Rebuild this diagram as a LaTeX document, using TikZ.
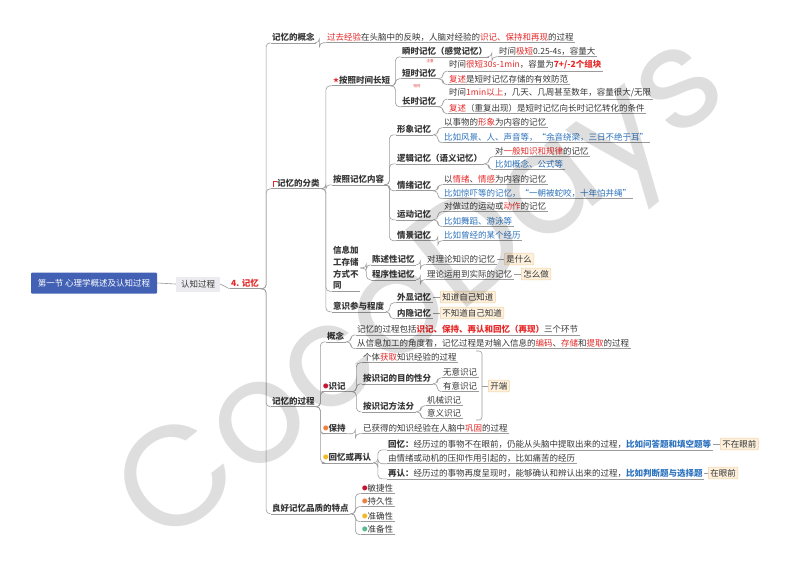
\documentclass[tikz,border=0pt]{standalone}
\usepackage{fontspec}
\setmainfont{Noto Sans CJK SC}
\newfontfamily\wmfont{Poppins}
\usetikzlibrary{calc}
\definecolor{tx}{RGB}{55,55,55}
\definecolor{rd}{RGB}{230,40,40}
\definecolor{bl}{RGB}{45,115,190}
\definecolor{ln}{RGB}{155,155,155}
\definecolor{rootblue}{RGB}{66,97,181}
\definecolor{rzbg}{RGB}{236,236,240}
\definecolor{boxbg}{RGB}{253,240,220}
\definecolor{boxbd}{RGB}{243,208,160}
\definecolor{dr}{RGB}{200,20,50}
\definecolor{dorg}{RGB}{235,130,60}
\definecolor{dy}{RGB}{242,185,40}
\definecolor{dg}{RGB}{90,185,140}
\newcommand{\hr}[1]{\textcolor{rd}{#1}}
\newcommand{\hrb}[1]{\textcolor{rd}{\bfseries #1}}
\newcommand{\hbb}[1]{\textcolor{bl}{\bfseries #1}}
\newcommand{\mdot}[1]{\textcolor{#1}{\raisebox{1pt}{\fontsize{5.5}{5}\selectfont ●}}}
\newcommand{\mstar}{\textcolor{rd}{\raisebox{0.8pt}{\fontsize{6}{6}\selectfont ★}}}
\newcommand{\lk}[3]{\draw[cn] (#1.south east) -- ++(#3,0) |- (#2.south west);}
\tikzset{
  every node/.style={font=\fontsize{8.5}{10}\selectfont, text=tx, inner xsep=1.5pt, inner ysep=1.5pt},
  lnc/.style={draw=ln, line width=0.6pt},
  cn/.style={lnc, rounded corners=4pt},
  t/.style={anchor=west, append after command={(\tikzlastnode.south west) edge[lnc] (\tikzlastnode.south east)}},
  b/.style={t, font=\fontsize{8.5}{10}\selectfont\bfseries},
  bt/.style={t, text=bl},
  tag/.style={anchor=west, fill=boxbg, draw=boxbd, line width=0.5pt, inner xsep=2pt, inner ysep=2pt, rounded corners=1pt},
}
\begin{document}
\begin{tikzpicture}[x=1pt,y=-1pt]
\fill[white] (0,0) rectangle (800,566);
\useasboundingbox (0,0) rectangle (800,566);

% root
\node[fill=rootblue, text=white, minimum width=126pt, minimum height=21pt, inner sep=0, rounded corners=1pt] (root) at (94,283) {第一节 心理学概述及认知过程};
\node[fill=rzbg, minimum width=44pt, minimum height=15pt, inner sep=0] (rz) at (198,284) {认知过程};
\node[t, text=rd, font=\fontsize{8.5}{10}\selectfont\bfseries] (mem) at (229.5,283) {4. 记忆};
\draw[lnc] (root.east) -- (rz.west);
\draw[lnc] (rz.east) -- (mem.south west);

% 记忆的概念
\node[b] (c1) at (270.5,37) {记忆的概念};
\node[t] (c1l) at (325.5,37) {\hr{过去经验}在头脑中的反映，人脑对经验的\hr{识记、保持和再现}的过程};
\lk{mem}{c1}{5.5}
\lk{c1}{c1l}{3}

% 记忆的分类
\node[b] (cls) at (270.5,183) {\hspace*{5pt}记忆的分类};
\draw[rd, line width=0.8pt] (273.5,186.5) -- (273.5,181) -- (276.5,181);
\lk{mem}{cls}{5.5}

\node[b] (t1) at (331.5,80) {\mstar 按照时间长短};
\lk{cls}{t1}{4.5}
\node[b] (s1) at (400.5,51) {瞬时记忆（感觉记忆）};
\node[t] (s1l) at (497.5,51) {时间\hr{极短}0.25-4s，容量大};
\node[b] (s2) at (400.5,73) {短时记忆};
\node[t] (s2a) at (447.5,65) {时间\hr{很短30s-1min}，容量为\hrb{7+/-2个组块}};
\node[t] (s2b) at (447.5,79) {\hr{复述}是短时记忆存储的有效防范};
\node[b] (s3) at (400.5,101) {长时记忆};
\node[t] (s3a) at (447.5,93) {时间\hr{1min以上}，几天、几周甚至数年，容量很大/无限};
\node[t] (s3b) at (447.5,108) {\hr{复述}（重复出现）是短时记忆向长时记忆转化的条件};
\node[font=\fontsize{3.5}{4}\selectfont, text=rd, inner sep=0] (n1) at (430,61) {注意};
\node[font=\fontsize{3.5}{4}\selectfont, text=rd, inner sep=0] (n2) at (417,86) {短时};
\lk{t1}{s1}{3.5}
\lk{t1}{s2}{3.5}
\lk{t1}{s3}{3.5}
\lk{s1}{s1l}{3}
\lk{s2}{s2a}{5}
\lk{s2}{s2b}{5}
\lk{s3}{s3a}{5}
\lk{s3}{s3b}{5}

\node[b] (t2) at (331.5,179) {按照记忆内容};
\lk{cls}{t2}{4.5}
\node[b] (x1) at (395.5,129) {形象记忆};
\node[t] (x1a) at (442.5,122) {以事物的\hr{形象}为内容的记忆};
\node[bt] (x1b) at (442.5,137) {比如风景、人、声音等，“余音绕梁，三日不绝于耳”};
\node[b] (x2) at (395.5,158) {逻辑记忆（语义记忆）};
\node[t] (x2a) at (493.5,151) {对\hr{一般知识和规律}的记忆};
\node[bt] (x2b) at (493.5,164) {比如概念、公式等};
\node[b] (x3) at (395.5,185) {情绪记忆};
\node[t] (x3a) at (442.5,179) {以\hr{情绪}、\hr{情感}为内容的记忆};
\node[bt] (x3b) at (442.5,193) {比如惊吓等的记忆，“一朝被蛇咬，十年怕井绳”};
\node[b] (x4) at (395.5,214) {运动记忆};
\node[t] (x4a) at (442.5,206) {对做过的运动或\hr{动作}的记忆};
\node[bt] (x4b) at (442.5,221) {比如舞蹈、游泳等};
\node[b] (x5) at (395.5,235) {情景记忆};
\node[bt] (x5a) at (442.5,235) {比如曾经的某个经历};
\foreach \c in {x1,x2,x3,x4,x5} {\lk{t2}{\c}{3.5}}
\lk{x1}{x1a}{5}
\lk{x1}{x1b}{5}
\lk{x2}{x2a}{5}
\lk{x2}{x2b}{5}
\lk{x3}{x3a}{5}
\lk{x3}{x3b}{5}
\lk{x4}{x4a}{5}
\lk{x4}{x4b}{5}
\lk{x5}{x5a}{5}

\node[anchor=west, align=left, font=\fontsize{8.5}{11.7}\selectfont\bfseries] (t3) at (331.5,268) {信息加\\工存储\\方式不\\同};
\draw[lnc] (t3.south west) -- (t3.south east);
\lk{cls}{t3}{4.5}
\node[b] (d1) at (370.5,259) {陈述性记忆};
\node[t] (d1l) at (425.5,259) {对理论知识的记忆};
\node[tag] (d1t) at (504,259) {是什么};
\node[b] (d2) at (370.5,274) {程序性记忆};
\node[t] (d2l) at (425.5,274) {理论运用到实际的记忆};
\node[tag] (d2t) at (521,274) {怎么做};
\draw[cn] (t3.east) -- ++(6,0) |- (d1.south west);
\draw[cn] (t3.east) -- ++(6,0) |- (d2.south west);
\lk{d1}{d1l}{4}
\lk{d2}{d2l}{4}
\draw[lnc] (d1l.east) -- (d1t.west);
\draw[lnc] (d2l.east) -- (d2t.west);

\node[b] (t4) at (331.5,306) {意识参与程度};
\lk{cls}{t4}{4.5}
\node[b] (e1) at (395.5,297) {外显记忆};
\node[tag] (e1t) at (440,297) {知道自己知道};
\node[b] (e2) at (395.5,313) {内隐记忆};
\node[tag] (e2t) at (440,313) {不知道自己知道};
\lk{t4}{e1}{4}
\lk{t4}{e2}{4}
\draw[lnc] (e1.east) -- (e1t.west);
\draw[lnc] (e2.east) -- (e2t.west);

% 记忆的过程
\node[b] (proc) at (270.5,401) {记忆的过程};
\lk{mem}{proc}{5.5}
\node[b] (p1) at (325.5,336) {概念};
\node[t] (p1a) at (355.5,329) {记忆的过程包括\hrb{识记、保持、再认和回忆（再现）}三个环节};
\node[t] (p1b) at (355.5,343) {从信息加工的角度看，记忆过程是对输入信息的\hr{编码}、\hr{存储}和\hr{提取}的过程};
\lk{proc}{p1}{4}
\lk{p1}{p1a}{5}
\lk{p1}{p1b}{5}

\node[b] (p2) at (321.5,386) {\mdot{dr}识记};
\lk{proc}{p2}{4}
\node[t] (p2a) at (361.5,357) {个体\hr{获取}知识经验的过程};
\node[b] (q1) at (361.5,378) {按识记的目的性分};
\node[t] (q1a) at (441.5,372) {无意识记};
\node[t] (q1b) at (441.5,386) {有意识记};
\node[b] (q2) at (361.5,406) {按识记方法分};
\node[t] (q2a) at (425.5,400) {机械识记};
\node[t] (q2b) at (425.5,413) {意义识记};
\lk{p2}{p2a}{9}
\lk{p2}{q1}{9}
\lk{p2}{q2}{9}
\lk{q1}{q1a}{4.5}
\lk{q1}{q1b}{4.5}
\lk{q2}{q2a}{5}
\lk{q2}{q2b}{5}
\node[tag] (kd) at (488,386) {开端};
\draw[lnc, rounded corners=3pt] (476,351) -| (482,420) -- (476,420);
\draw[lnc] (482,386) -- (kd.west);

\node[b] (p3) at (321.5,428) {\mdot{dorg}保持};
\node[t] (p3a) at (361.5,428) {已获得的知识经验在人脑中\hr{巩固}的过程};
\lk{proc}{p3}{4}
\lk{p3}{p3a}{8}

\node[b] (p4) at (321.5,457) {\mdot{dy}回忆或再认};
\lk{proc}{p4}{4}
\node[t] (p4a) at (386.5,444) {\textbf{回忆：}经历过的事物不在眼前，仍能从头脑中提取出来的过程，\hbb{比如问答题和填空题等}};
\node[t] (p4b) at (386.5,458) {由情绪或动机的压抑作用引起的，比如痛苦的经历};
\node[t] (p4c) at (386.5,473) {\textbf{再认：}经历过的事物再度呈现时，能够确认和辨认出来的过程，\hbb{比如判断题与选择题}};
\lk{p4}{p4a}{5}
\lk{p4}{p4b}{5}
\lk{p4}{p4c}{5}
\node[tag] (p4at) at (720,444) {不在眼前};
\node[tag] (p4ct) at (708,473) {在眼前};
\draw[lnc] (p4a.east) -- (p4at.west);
\draw[lnc] (p4c.east) -- (p4ct.west);

% 良好记忆品质的特点
\node[b] (g) at (270.5,508) {良好记忆品质的特点};
\lk{mem}{g}{5.5}
\node[t] (g1) at (360.5,488) {\mdot{dr}敏捷性};
\node[t] (g2) at (360.5,501) {\mdot{dorg}持久性};
\node[t] (g3) at (360.5,516) {\mdot{dy}准确性};
\node[t] (g4) at (360.5,529) {\mdot{dg}准备性};
\foreach \c in {g1,g2,g3,g4} {\lk{g}{\c}{5}}

% watermark
\node[rotate=38.5, text=black, opacity=0.13, font=\wmfont\fontsize{142}{142}\selectfont, inner sep=0] (wm) at (428,298) {CocoDays};
\end{tikzpicture}
\end{document}
